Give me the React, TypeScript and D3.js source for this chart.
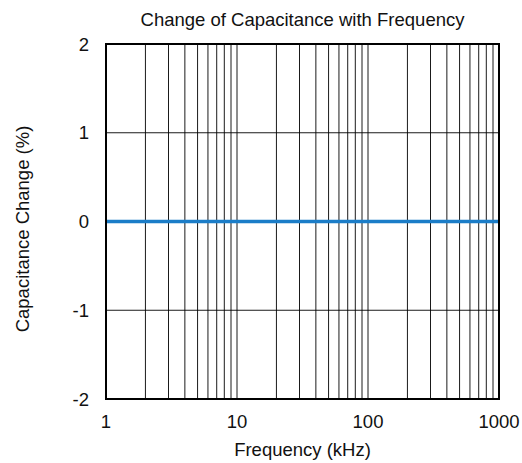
import React from 'react';
import * as d3 from 'd3';

const freqKHz = [1, 2, 5, 10, 20, 50, 100, 200, 500, 1000];
const capChange = [0, 0, 0, 0, 0, 0, 0, 0, 0, 0];
const xTicks = [1, 10, 100, 1000];
const yTicks = [-2, -1, 0, 1, 2];

const W = 522;
const H = 463;
const m = { left: 106, right: 23, top: 44, bottom: 64 };

export default function App() {
  const x = d3.scaleLog().domain([1, 1000]).range([m.left, W - m.right]);
  const y = d3.scaleLinear().domain([-2, 2]).range([H - m.bottom, m.top]);

  // minor grid at every 1..9 of each decade
  const grid: number[] = [];
  for (let d = 1; d < 1000; d *= 10) {
    for (let k = 2; k <= 10; k++) grid.push(d * k);
  }

  const line = d3.line<number>()
    .x((_, i) => x(freqKHz[i]))
    .y(d => y(d));

  const font = '"Liberation Sans", Arial, sans-serif';
  const fs = 18.5;

  return (
    <svg width={W} height={H} style={{ position: 'absolute', left: 0, top: 0 }} fontFamily={font}>
      <rect width={W} height={H} fill="#fff" />
      <text x={(m.left + W - m.right) / 2} y={26} textAnchor="middle" fontSize={fs} fill="#111">
        Change of Capacitance with Frequency
      </text>

      {grid.map(g => (
        <line key={g} x1={x(g)} x2={x(g)} y1={y(2)} y2={y(-2)} stroke="#000" strokeWidth={0.9} />
      ))}
      {yTicks.map(t => (
        <line key={t} x1={x(1)} x2={x(1000)} y1={y(t)} y2={y(t)} stroke="#000" strokeWidth={0.9} />
      ))}

      <path d={line(capChange) || ''} fill="none" stroke="#1b7dc8" strokeWidth={3.5} />

      <rect x={m.left} y={m.top} width={W - m.right - m.left} height={H - m.bottom - m.top}
        fill="none" stroke="#000" strokeWidth={2} />

      {yTicks.map(t => (
        <text key={t} x={m.left - 17} y={y(t) + 6.5} textAnchor="end" fontSize={fs} fill="#111">{t}</text>
      ))}
      {xTicks.map(t => (
        <text key={t} x={x(t)} y={428} textAnchor="middle" fontSize={fs} fill="#111">{t}</text>
      ))}

      <text x={(m.left + W - m.right) / 2} y={456} textAnchor="middle" fontSize={fs} fill="#111">
        Frequency (kHz)
      </text>
      <text transform={`translate(29,229) rotate(-90)`} textAnchor="middle" fontSize={fs} fill="#111">
        Capacitance Change (%)
      </text>
    </svg>
  );
}
